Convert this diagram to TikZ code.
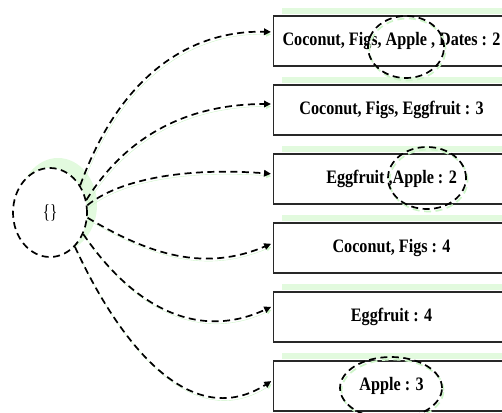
\documentclass[tikz,border=0pt]{standalone}
\usepackage{fontspec}
\setmainfont{Liberation Serif}
\newfontfamily\boxfont[FakeStretch=0.85]{Liberation Serif}
\newfontfamily\rootfont[FakeStretch=0.75]{Liberation Serif}
\usetikzlibrary{arrows.meta,shapes.geometric}
\definecolor{bandgreen}{RGB}{226,250,222}
\definecolor{shadegreen}{RGB}{205,245,200}
\definecolor{boxline}{RGB}{40,40,40}
\tikzset{
  itembox/.style={draw=boxline, line width=1.1pt, rectangle, fill=white,
    minimum width=236pt, minimum height=50pt, anchor=west, inner sep=0pt,
    font=\boxfont\bfseries\fontsize{19}{21}\selectfont},
  dashline/.style={dash pattern=on 7pt off 4.5pt, line width=1.7pt},
  link/.style={dashline, draw=black, shorten >=2pt,
    -{Triangle[length=7pt,width=6.5pt]},
    preaction={draw=shadegreen, transform canvas={shift={(1.5pt,-2.5pt)}}}},
  ringmark/.style={ellipse, draw=black, dashline, inner sep=0pt,
    preaction={draw=shadegreen, transform canvas={shift={(1.5pt,-2.5pt)}}}},
  rootnode/.style={ellipse, draw=black, dashline, fill=white, inner sep=0pt,
    minimum width=74pt, minimum height=89pt, font=\rootfont\fontsize{20}{22}\selectfont},
  band/.style={fill=bandgreen}
}
\begin{document}
\begin{tikzpicture}[x=1pt,y=-1pt]
\useasboundingbox (0,0) rectangle (502,412);
\clip (0,0) rectangle (502,412);
% shadow bands above boxes
\foreach \t in {16,85,154,223,292,361}{
  \fill[band] (282,\t-8) rectangle (512,\t-2);
}
% halo behind root
\fill[bandgreen] (58,205) ellipse [x radius=39, y radius=47];
\node[rootnode] (root) at (50,212.5) {\{\}};
% boxes
\node[itembox] (b1) at (273,41)  {Coconut, Figs, Apple , Dates : 2};
\node[itembox] (b2) at (273,110) {Coconut, Figs, Eggfruit : 3};
\node[itembox] (b3) at (273,179) {Eggfruit ,Apple : 2};
\node[itembox] (b4) at (273,248) {Coconut, Figs : 4};
\node[itembox] (b5) at (273,317) {Eggfruit : 4};
\node[itembox] (b6) at (273,386) {Apple : 3};
% connectors
\draw[link] (root.42)  .. controls (122,70)  and (195,30)  .. ([yshift=9pt]b1.west);
\draw[link] (root.19)  .. controls (130,130) and (195,104) .. ([yshift=6pt]b2.west);
\draw[link] (root.11)  .. controls (125,175) and (200,168) .. ([yshift=5pt]b3.west);
\draw[link] (root.-8)  .. controls (150,255) and (205,272) .. ([yshift=5pt]b4.west);
\draw[link] (root.-33) .. controls (135,310) and (200,340) .. ([yshift=11pt]b5.west);
\draw[link] (root.-54) .. controls (125,355) and (195,430) .. ([yshift=6pt]b6.west);
% dashed marks over the boxes
\node[ringmark, minimum width=76pt, minimum height=62pt] (m1) at (406,47) {};
\node[ringmark, minimum width=78pt, minimum height=62pt] (m3) at (427,178) {};
\node[ringmark, minimum width=102pt, minimum height=62pt] (m6) at (391,388) {};
\end{tikzpicture}
\end{document}
